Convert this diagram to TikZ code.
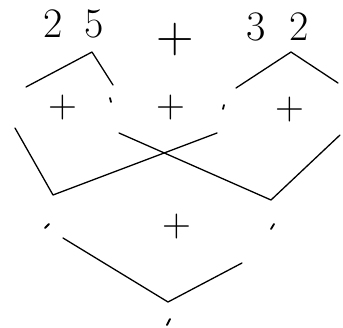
\documentclass[tikz,border=0pt]{standalone}
\usepackage{fontspec}
\begin{document}
\begin{tikzpicture}[x=1pt, y=-1pt, line width=1.3pt, line cap=round, line join=round,
		numero/.style={font=\fontsize{42}{46}\selectfont, inner sep=0pt, anchor=base},
		mas/.style={font=\fontsize{40}{44}\selectfont, inner sep=0pt},
		masgrande/.style={font=\fontsize{52}{56}\selectfont, inner sep=0pt},
		marca/.style={line width=1.8pt}]
	\useasboundingbox (0,0) rectangle (343,327);
	% primera fila
	\node[numero] (n25) at (74,37) {2\hspace{22pt}5};
	\node[masgrande] (s0) at (175,40) {+};
	\node[numero] (n32) at (278,40) {3\hspace{24pt}2};

	% descomposicion
	\coordinate (a) at (92,52);
	\coordinate (al) at (26,87);
	\coordinate (ar) at (113,85);
	\coordinate (b) at (291,52);
	\coordinate (bl) at (236,88);
	\coordinate (br) at (338,83);
	\draw (al) -- (a) -- (ar);
	\draw (bl) -- (b) -- (br);

	% segunda fila
	\node[mas] (s1) at (63,108) {+};
	\node[mas] (s2) at (171,108) {+};
	\node[mas] (s3) at (290,110) {+};

	\coordinate (c1) at (15,128);
	\coordinate (c2) at (53,195);
	\coordinate (c3) at (217,133);
	\coordinate (d1) at (119,133);
	\coordinate (d2) at (271,200);
	\coordinate (d3) at (340,135);
	\draw (c1) -- (c2) -- (c3);
	\draw (d1) -- (d2) -- (d3);

	% tercera fila
	\node[mas] (s4) at (177,227) {+};
	\coordinate (e1) at (63,238);
	\coordinate (e2) at (168,302);
	\coordinate (e3) at (242,263);
	\draw (e1) -- (e2) -- (e3);

	% marcas
	\draw[marca] (110,98) -- (111,102);
	\draw[marca] (224,105) -- (223,109);
	\draw[marca] (49,224) -- (45,228);
	\draw[marca] (274,224) -- (271,229);
	\draw[marca] (170,319) -- (167,325);
\end{tikzpicture}
\end{document}
